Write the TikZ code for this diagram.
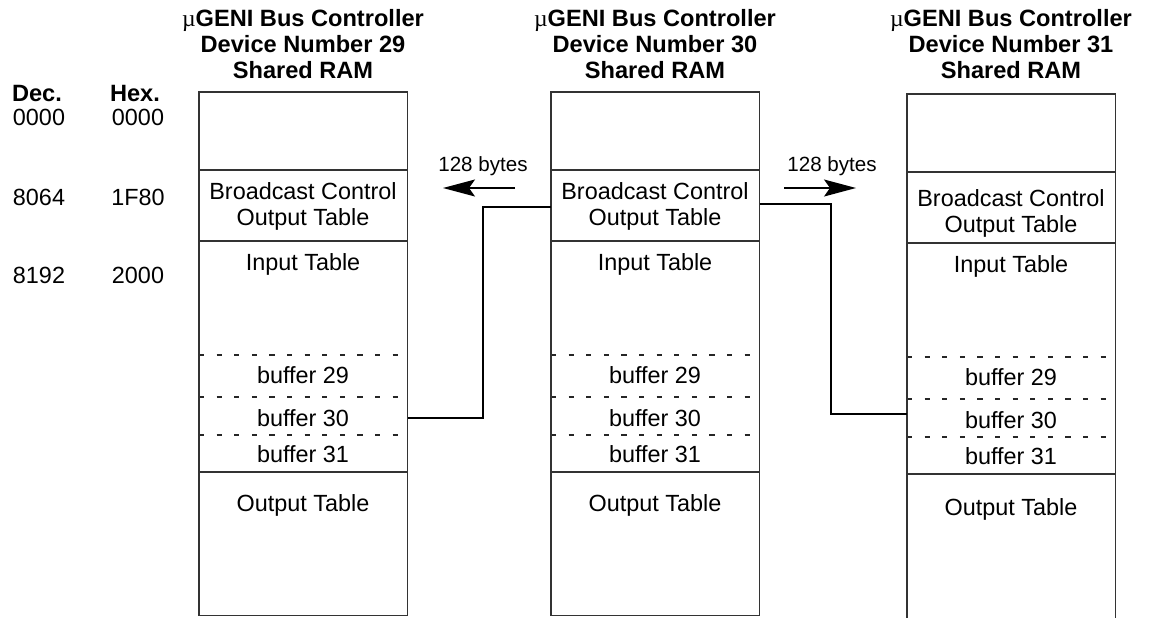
\documentclass[tikz,border=0pt]{standalone}
\usepackage{fontspec}
\setmainfont{Liberation Sans}
\newfontfamily\mufont{Liberation Serif}
\usetikzlibrary{arrows.meta,positioning}

\newcommand{\ugeni}{{\mufont\mdseries µ}GENI}

\begin{document}
\begin{tikzpicture}[
  x=0.5pt, y=-0.5pt,
  txt/.style={font=\fontsize{11.7}{13}\selectfont, inner sep=0pt, align=center},
  lbl/.style={txt, text height=8.4pt, text depth=0pt},
  ttl/.style={txt, font=\fontsize{11.8}{13}\selectfont\bfseries},
  note/.style={txt, font=\fontsize{10.3}{12}\selectfont, text height=7.4pt, text depth=0pt},
  ram/.style={minimum width=104pt, minimum height=261.5pt, inner sep=0pt,
              anchor=north west},
  wall/.style={draw=black!80, line width=0.6pt},
  field/.style={draw=black!80, line width=0.6pt},
  part/.style={draw=black!85, line width=0.55pt, dash pattern=on 2.6pt off 6.2pt},
  link/.style={line width=0.6pt},
  move/.style={line width=0.6pt, -{Stealth[length=16pt,width=8.5pt,inset=3pt]}},
]
  \useasboundingbox (0,0) rectangle (1149,617);

  % Address columns
  \node[ttl] (dec) at (37,93)  {Dec.};
  \node[ttl] (hex) at (135,93) {Hex.};
  \node[lbl] (dec0) at (39,117)  {0000};
  \node[lbl] (hex0) at (138,117) {0000};
  \node[lbl] (dec1) at (39,197)  {8064};
  \node[lbl] (hex1) at (138,197) {1F80};
  \node[lbl] (dec2) at (39,275)  {8192};
  \node[lbl] (hex2) at (138,275) {2000};

  % Shared RAM maps
  \foreach \name/\xl/\d/\e/\num in {ram29/199/0/0/29, ram30/551/0/0/30, ram31/907/2/7/31} {
    \node[ram] (\name) at (\xl,92+\d) {};
    \node[ttl] (\name-title) at (\xl+104,44)
      {\ugeni\ Bus Controller\\Device Number \num\\Shared RAM};
    \foreach \y in {170,241,472}
      \draw[field] (\name.west |- 0,\y+\d) -- (\name.east |- 0,\y+\d);
    \foreach \y in {355,397,435}
      \draw[part] (\name.west |- 0,\y+\d) -- (\name.east |- 0,\y+\d);
    \node[txt] (\name-bc)  at (\xl+104,206+\e) {Broadcast Control\\Output Table};
    \node[lbl] (\name-in)  at (\xl+104,262+\d) {Input Table};
    \node[lbl] (\name-b29) at (\xl+104,375+\d) {buffer 29};
    \node[lbl] (\name-b30) at (\xl+104,418+\d) {buffer 30};
    \node[lbl] (\name-b31) at (\xl+104,454+\d) {buffer 31};
    \node[lbl] (\name-out) at (\xl+104,503+2*\d) {Output Table};
  }

  % Outlines (the last one is open at the bottom)
  \draw[wall] (ram29.south west) rectangle (ram29.north east);
  \draw[wall] (ram30.south west) rectangle (ram30.north east);
  \draw[wall] (ram31.south west) |- (ram31.north east) -- (ram31.south east);

  % Broadcast transfers
  \node[note] (bytes-l) at (483,164) {128 bytes};
  \node[note] (bytes-r) at (832,164) {128 bytes};
  \coordinate (l-from) at (515,188);
  \coordinate (l-to)   at (443,188);
  \coordinate (r-from) at (784,188);
  \coordinate (r-to)   at (856,188);
  \draw[move] (l-from) -- (l-to);
  \draw[move] (r-from) -- (r-to);

  \draw[link] (ram30.west |- 0,207) -| (483,418) -- (ram29.east |- 0,418);
  \draw[link] (ram30.east |- 0,204) -| (831,414) -- (ram31.west |- 0,414);
\end{tikzpicture}
\end{document}
